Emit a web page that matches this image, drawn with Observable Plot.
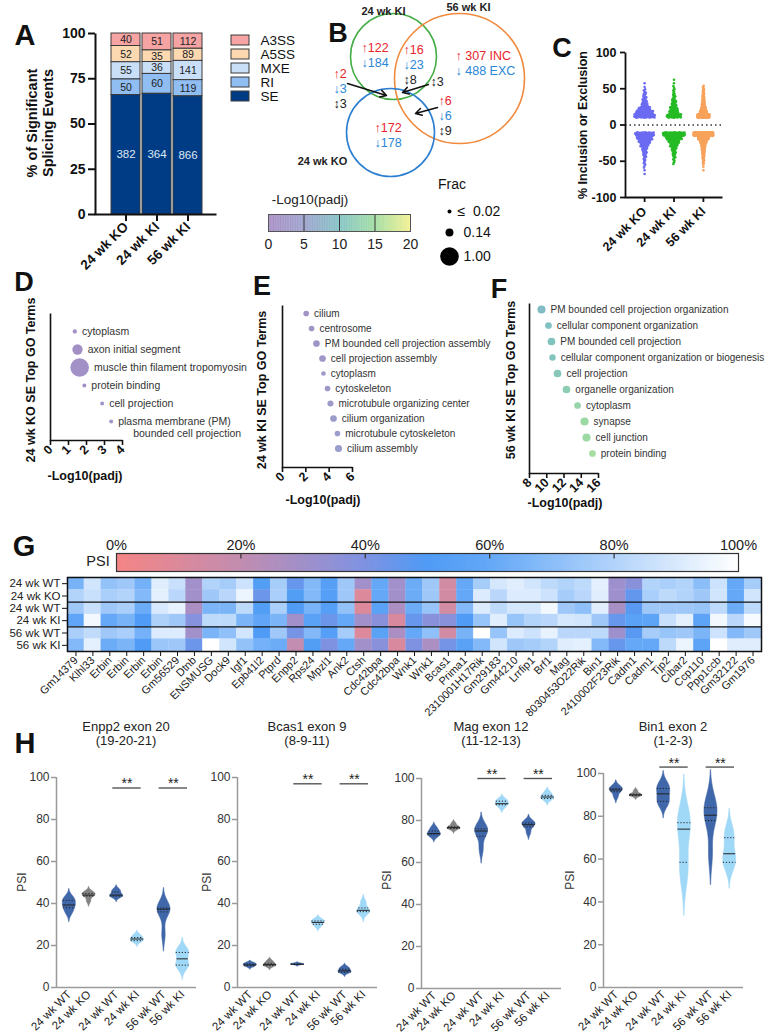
<!DOCTYPE html>
<html>
<head>
<meta charset="utf-8">
<script src="https://cdn.jsdelivr.net/npm/d3@7"></script>
<script src="https://cdn.jsdelivr.net/npm/@observablehq/plot@0.6"></script>
<style>
html,body{margin:0;padding:0;background:#fff;}
#fig{position:relative;width:767px;height:1035px;overflow:hidden;background:#fff;font-family:"Liberation Sans",Arial,Helvetica,sans-serif;color:#111;}
#fig svg{position:absolute;left:0;top:0;overflow:visible;background:none;max-width:none;}
</style>
</head>
<body>
<div id="fig"></div>
<script>
// ================= DATA =================
// Panel A: significant splicing events
const aGroups = ["24 wk KO", "24 wk KI", "56 wk KI"];
const aTypes = ["A3SS", "A5SS", "MXE", "RI", "SE"];
const aA3SS = [40, 51, 112];
const aA5SS = [52, 35, 89];
const aMXE = [55, 36, 141];
const aRI = [50, 60, 119];
const aSE = [382, 364, 866];

// Panel B: Venn counts (inclusion up, exclusion down, both)
const vSets = ["24 wk KI", "56 wk KI", "24 wk KO"];
const vRegions = ["24 wk KI only", "56 wk KI only", "24 wk KO only", "24 wk KI & 56 wk KI", "24 wk KI & 24 wk KO", "24 wk KO & 56 wk KI", "all"];
const vUp = [122, 307, 172, 16, 2, 6, null];
const vDown = [184, 488, 178, 23, 3, 6, null];
const vBoth = [null, null, null, 8, 3, 9, 3];
const fracLegend = [0.02, 0.14, 1.00];
const fracLegendLabels = ["≤  0.02", "0.14", "1.00"];

// Panel C: % inclusion / exclusion, counts per 5% bin (|value| from 10 to 70)
const cGroups = ["24 wk KO", "24 wk KI", "56 wk KI"];
const cBinStart = [10, 15, 20, 25, 30, 35, 40, 45, 50, 55, 60, 65];
const cIncKO = [55, 45, 30, 15, 10, 7, 5, 3, 1, 1, 0, 0];
const cExcKO = [50, 40, 30, 20, 12, 9, 6, 4, 3, 2, 1, 1];
const cIncKI = [40, 25, 20, 12, 10, 5, 4, 3, 2, 1, 1, 0];
const cExcKI = [70, 45, 30, 20, 12, 8, 5, 3, 2, 0, 0, 0];
const cInc56 = [130, 70, 40, 25, 15, 10, 8, 5, 3, 0, 0, 0];
const cExc56 = [220, 110, 60, 35, 25, 15, 10, 6, 4, 1, 1, 0];

// Panels D, E, F: GO terms
const dTerms = ["cytoplasm", "axon initial segment", "muscle thin filament tropomyosin", "protein binding", "cell projection", "plasma membrane (PM)"];
const dTerms2 = ["", "", "", "", "", "bounded cell projection"];
const dPadj = [1.35, 1.5, 1.62, 1.88, 2.87, 3.37];
const dFrac = [0.025, 0.26, 1.0, 0.02, 0.02, 0.02];

const eTerms = ["cilium", "centrosome", "PM bounded cell projection assembly", "cell projection assembly", "cytoplasm", "cytoskeleton", "microtubule organizing center", "cilium organization", "microtubule cytoskeleton", "cilium assembly"];
const ePadj = [2.03, 2.49, 2.91, 3.43, 3.51, 3.86, 4.11, 4.37, 4.71, 4.8];
const eFrac = [0.057, 0.057, 0.09, 0.09, 0.032, 0.057, 0.07, 0.09, 0.057, 0.106];

const fTerms = ["PM bounded cell projection organization", "cellular component organization", "PM bounded cell projection", "cellular component organization or biogenesis", "cell projection", "organelle organization", "cytoplasm", "synapse", "cell junction", "protein binding"];
const fPadj = [9.39, 10.2, 10.55, 10.67, 11.25, 12.29, 13.57, 14.38, 14.61, 15.3];
const fFrac = [0.149, 0.09, 0.13, 0.08, 0.13, 0.13, 0.09, 0.15, 0.15, 0.09];

// Panel G: PSI heatmap
const gGenes = ["Gm14379", "Klhl33", "Erbin", "Erbin", "Erbin", "Erbin", "Gm56529", "Dtnb", "ENSMUSG", "Dock9", "Igf1", "Epb41l2", "Ptprd", "Enpp2", "Rps24", "Mpzl1", "Ank2", "Ctsh", "Cdc42bpa", "Cdc42bpa", "Wnk1", "Wnk1", "Bcas1", "Prima1", "2310001H17Rik", "Gm29183", "Gm44210", "Lrrfip1", "Brf1", "Mag", "8030453O22Rik", "Bin1", "2410002F23Rik", "Cadm1", "Cadm1", "Tjp2", "Cibar2", "Ccp110", "Ppp1ccb", "Gm32122", "Gm1976"];
const gRowLabels = ["24 wk WT", "24 wk KO", "24 wk WT", "24 wk KI", "56 wk WT", "56 wk KI"];
const g24WTa = [65,88,72,75,64,92,86,30,80,77,87,52,77,45,68,53,75,30,60,30,62,75,14,60,77,89,92,88,83,80,83,93,31,37,80,78,80,70,87,60,77];
const g24KO  = [80,86,78,80,68,93,82,30,75,82,95,44,78,52,68,53,75,10,60,30,62,75,14,60,91,82,91,91,87,77,82,92,31,46,78,83,80,75,88,60,88];
const g24WTb = [75,86,75,78,62,90,94,27,66,66,83,52,78,50,65,53,72,10,55,27,62,73,14,68,91,83,89,89,97,75,71,92,28,48,75,75,75,73,83,62,83];
const g24KI  = [58,97,60,65,50,79,75,38,83,83,66,58,66,30,55,44,60,30,37,11,45,37,37,50,73,92,73,80,82,89,88,75,45,55,57,86,93,57,97,82,98];
const g56WT  = [78,84,75,78,64,91,91,30,66,71,88,50,75,42,68,53,77,10,55,27,60,71,14,65,100,73,91,87,94,82,82,83,31,48,77,73,75,66,87,68,75];
const g56KI  = [68,93,62,66,50,74,75,44,100,88,72,64,62,20,52,40,60,30,37,11,40,27,42,55,68,88,75,77,80,92,93,68,45,60,60,83,95,57,100,92,92];
const gPsiTicks = [0, 20, 40, 60, 80, 100];

// Panel H: PSI per replicate, groups in order
const hGroups = ["24 wk WT", "24 wk KO", "24 wk WT", "24 wk KI", "56 wk WT", "56 wk KI"];
const hEnpp2 = [[35.5,38,39.3,41.5,42.5],[41,43.5,44,44.8,45.3],[43,43.5,44,45.5,46.5],[21.5,22.3,23.1,23.8,25],[25,36,37.3,37.8,38.2],[10.2,10.8,16.5,17.3]];
const hBcas1 = [[9.8,10.5,11,11.6],[10,10.6,11.2,12.5],[10.8,11,11.1,11.2],[29,30.5,31.5,32.2],[7,7.4,8.5,9.5],[35,36.5,37,40.5]];
const hMag = [[72.2,73.2,73.8,75,76.5],[75.5,76.2,76.6,77,78.5],[66,72.5,75,76,77],[86,87.5,88,89.2,90],[74,77,78,78.8,79.5],[89.5,90.5,91.2,92,93.5]];
const hBin1 = [[89,91.5,92.3,93,94],[89.2,89.7,90,90.3,91.8],[85.5,87,90.5,93,95],[52,58.5,74,77,80],[62,78,80.5,84,87],[57.5,58.5,62.5,70,73]];
const hSigPairs = [[2, 3], [4, 5]];
const hSigText = "**";

// ================= STYLE / LAYOUT =================
const FONT = '"Liberation Sans", Arial, Helvetica, sans-serif';
const W = 767, H = 1035;
const fig = document.getElementById("fig");
const aColors = ["#f5a3a3", "#fdd9b2", "#c9dff8", "#90bdf2", "#003c85"];
const cColors = ["#6b6bf2", "#25bb25", "#f7a35c"];
const PADJ_COLOR = {type: "linear", domain: [0, 5, 10, 15, 20], range: ["#a58ac3", "#9a9fcb", "#7fc0c3", "#9fdca0", "#f2ef8c"]};
const PSI_COLOR = {type: "linear", domain: [0, 20, 40, 50, 60, 80, 100], range: ["#f58585", "#c28db0", "#7f92e2", "#4f9bf5", "#64a8f7", "#b2d3fa", "#ffffff"]};
const R_SCALE = {type: "sqrt", domain: [0.02, 1], range: [2, 9.3], clamp: true};
const rpx = f => 2 + (Math.sqrt(Math.max(f, 0.02)) - Math.sqrt(0.02)) / (1 - Math.sqrt(0.02)) * 7.3;
const ID = {x: {domain: [0, W], range: [0, W], axis: null}, y: {domain: [0, H], range: [0, H], axis: null}};

function draw(opts) {
  const svg = Plot.plot(Object.assign({width: W, height: H, marginTop: 0, marginRight: 0, marginBottom: 0, marginLeft: 0}, opts,
    {style: {fontFamily: FONT, background: "none", overflow: "visible", maxWidth: "none", color: "#111"}}));
  fig.appendChild(svg);
  return svg;
}
function label(text, x, y, css = "", rot = 0) {
  const d = document.createElement("div");
  d.textContent = text;
  d.style.cssText = `position:absolute;left:${x}px;top:${y}px;transform:translate(-50%,-50%) rotate(${rot}deg);white-space:pre;text-align:center;line-height:1.08;font-family:${FONT};color:#111;${css}`;
  fig.appendChild(d);
}
const lShape = (w, h) => `0 ${w + h} ${w + h}`;

// ================= PANEL A =================
const aRows = [aA3SS, aA5SS, aMXE, aRI, aSE].flatMap((arr, t) => arr.map((c, g) => ({group: aGroups[g], type: aTypes[t], count: c})));
const aOrder = ["SE", "RI", "MXE", "A5SS", "A3SS"];
draw({
  marginLeft: 95, marginTop: 33, marginRight: W - 216, marginBottom: H - 214,
  x: {type: "band", domain: aGroups, range: [108, 205], padding: 0.05},
  y: {domain: [0, 1]},
  color: {domain: aTypes, range: aColors},
  marks: [
    Plot.barY(aRows, Plot.stackY({offset: "normalize", order: aOrder, x: "group", y: "count", z: "type", fill: "type", stroke: "#3a3a3a", strokeWidth: 1})),
    Plot.text(aRows, Plot.stackY({offset: "normalize", order: aOrder, x: "group", y: "count", z: "type", text: d => d.type === "SE" ? d.count : "", fill: "#dfe7f3", fontSize: 11.5})),
    Plot.text(aRows, Plot.stackY({offset: "normalize", order: aOrder, x: "group", y: "count", z: "type", text: d => d.type !== "SE" ? d.count : "", fill: "#222", fontSize: 10.5})),
    Plot.frame({stroke: "#111", strokeWidth: 2, strokeDasharray: lShape(121, 181)}),
    Plot.axisY({ticks: [0, 0.25, 0.5, 0.75, 1], tickFormat: d => Math.round(d * 100), tickSize: 7, tickPadding: 3, fontSize: 14, fontWeight: "bold", strokeWidth: 2, label: null}),
    Plot.axisX({tickRotate: -45, tickSize: 7, tickPadding: 3, fontSize: 13.5, fontWeight: "bold", strokeWidth: 2, label: null})
  ]
});
// legend A
draw({
  marginTop: 29, marginBottom: H - 106.5, marginLeft: 231, marginRight: W - 249,
  x: {domain: [0, 1], axis: null}, y: {type: "band", domain: aTypes, padding: 0.3, axis: null},
  color: {domain: aTypes, range: aColors},
  marks: [
    Plot.barX(aTypes, {y: d => d, x1: 0, x2: 1, fill: d => d, stroke: "#3a3a3a"}),
    Plot.text(aTypes, {y: d => d, x: 1, dx: 11, text: d => d, textAnchor: "start", fontSize: 13.5, fill: "#111"})
  ]
});
label("A", 25, 36, "font-weight:bold;font-size:29px");
label("% of Significant\nSplicing Events", 41, 123, "font-weight:bold;font-size:14.5px", -90);

// ================= PANEL B =================
const vSetColors = ["#45ad45", "#f08a3e", "#2d7fd1"];
const vCircleLayout = [{cx: 393, cy: 56, r: 43, lx: 383, ly: 11}, {cx: 459, cy: 78, r: 65, lx: 468, ly: 7}, {cx: 390, cy: 132, r: 44, lx: 322, ly: 161}];
const vRegionLayout = [[361, 47], [455, 55], [374, 127], [403, 49], [333, 73], [438, 100], [430, 81]];
const vArrows = [{x1: 347, y1: 83, x2: 386, y2: 95}, {x1: 428, y1: 84, x2: 402, y2: 92}, {x1: 437, y1: 107, x2: 415, y2: 113}];
const vTexts = [];
vRegionLayout.forEach(([x, y], i) => {
  let yy = y;
  if (vUp[i] != null) { vTexts.push({x, y: yy, t: i === 1 ? `↑ ${vUp[i]} INC` : `↑${vUp[i]}`, k: "up"}); yy += 15; }
  if (vDown[i] != null) { vTexts.push({x, y: yy, t: i === 1 ? `↓ ${vDown[i]} EXC` : `↓${vDown[i]}`, k: "down"}); yy += 15.5; }
  if (vBoth[i] != null) vTexts.push({x, y: yy, t: `↕${vBoth[i]}`, k: "both"});
});
draw({
  ...ID,
  marks: [
    ...vCircleLayout.map((c, i) => Plot.dot([c], {x: "cx", y: "cy", r: c.r, stroke: vSetColors[i], strokeWidth: 1.6, fill: "none"})),
    Plot.text(vCircleLayout, {x: "lx", y: "ly", text: (d, i) => vSets[i], fontWeight: "bold", fontSize: 11, fill: "#222"}),
    Plot.text(vTexts.filter(d => d.k === "up"), {x: "x", y: "y", text: "t", textAnchor: "start", fill: "#e8242c", fontSize: 12.5}),
    Plot.text(vTexts.filter(d => d.k === "down"), {x: "x", y: "y", text: "t", textAnchor: "start", fill: "#2a86d6", fontSize: 12.5}),
    Plot.text(vTexts.filter(d => d.k === "both"), {x: "x", y: "y", text: "t", textAnchor: "start", fill: "#222", fontSize: 12.5}),
    Plot.arrow(vArrows, {x1: "x1", y1: "y1", x2: "x2", y2: "y2", stroke: "#111", strokeWidth: 1.5, headLength: 7})
  ]
});
label("B", 338, 34, "font-weight:bold;font-size:27px");
// -Log10(padj) colour bar
draw({
  marginLeft: 268, marginRight: W - 410, marginTop: 214, marginBottom: H - 231,
  x: {domain: [0, 20]}, y: {domain: [0, 1], axis: null},
  color: PADJ_COLOR,
  marks: [
    Plot.rect(d3.range(0, 20, 0.1), {x1: d => d, x2: d => Math.min(d + 0.13, 20), y1: 0, y2: 1, fill: d => d + 0.05}),
    Plot.ruleX([5, 10, 15], {y1: 0, y2: 1, stroke: "#333", strokeWidth: 1}),
    Plot.frame({stroke: "#555", strokeWidth: 1}),
    Plot.axisX({ticks: [0, 5, 10, 15, 20], tickFormat: d => String(d), tickSize: 0, tickPadding: 8, fontSize: 14, fill: "#222", label: null})
  ]
});
label("-Log10(padj)", 310, 200, "font-size:13.5px;color:#222");
// Frac legend
draw({
  ...ID,
  r: R_SCALE,
  marks: [
    Plot.dot(fracLegend, {x: () => 449, y: (d, i) => [211, 232, 256][i], r: d => d, fill: "#000"}),
    Plot.text(fracLegend.slice(0, 1), {x: () => 457, y: () => 211, text: () => fracLegendLabels[0], textAnchor: "start", fontSize: 14, fill: "#111"}),
    Plot.text(fracLegend.slice(1), {x: () => 463, y: (d, i) => [232, 256][i], text: (d, i) => fracLegendLabels[i + 1], textAnchor: "start", fontSize: 14, fill: "#111"})
  ]
});
label("Frac", 452, 185, "font-size:14px;color:#111");

// ================= PANEL C =================
const cSpread = [0.36, 0.33, 0.085];
const cPPU = 97 / 3.3;
const cPts = [];
[[cIncKO, cExcKO], [cIncKI, cExcKI], [cInc56, cExc56]].forEach(([inc, exc], gi) => {
  [[inc, 1], [exc, -1]].forEach(([counts, sign]) => {
    counts.forEach((n, b) => {
      const lo = cBinStart[b];
      const wpx = Math.min(n * cSpread[gi] + 1, 22);
      for (let i = 0; i < n; i++) {
        const u = ((i * 0.6180339887 + 0.5) % 1) - 0.5;
        cPts.push({g: gi, x: gi + u * wpx / cPPU, y: sign * (lo + 5 * (i + 0.5) / n)});
      }
    });
  });
});
draw({
  marginLeft: 625, marginRight: W - 722, marginTop: 52, marginBottom: H - 197,
  x: {domain: [-0.65, 2.65]}, y: {domain: [-100, 100]},
  color: {type: "ordinal", domain: [0, 1, 2], range: cColors},
  marks: [
    Plot.ruleY([0], {stroke: "#333", strokeDasharray: "1.5 3", strokeWidth: 1.3}),
    Plot.dot(cPts, {x: "x", y: "y", r: 1.3, fill: "g"}),
    Plot.frame({stroke: "#111", strokeWidth: 1.8, strokeDasharray: lShape(97, 145)}),
    Plot.axisY({ticks: [-100, -50, 0, 50, 100], tickFormat: d => String(d), tickSize: 5, strokeWidth: 1.8, fontSize: 12.5, fontWeight: "bold", label: null}),
    Plot.axisX({ticks: [0, 1, 2], tickFormat: i => cGroups[i], tickRotate: -45, tickSize: 5, strokeWidth: 1.8, fontSize: 12.5, fontWeight: "bold", label: null})
  ]
});
label("C", 562, 49, "font-weight:bold;font-size:27px");
label("% Inclusion or Exclusion", 584, 125, "font-weight:bold;font-size:12.5px", -90);

// ================= PANELS D, E, F =================
function goPanel(terms, terms2, padj, frac, cfg) {
  const ppu = (cfg.right - cfg.left) / (cfg.xdom[1] - cfg.xdom[0]);
  const rows = terms.map((t, i) => ({t, s: terms2 ? terms2[i] : "", v: padj[i], f: frac[i]}));
  draw({
    marginLeft: cfg.left, marginRight: W - cfg.right, marginTop: cfg.top, marginBottom: H - cfg.bottom,
    x: {domain: cfg.xdom}, y: {type: "point", domain: terms, range: cfg.yr, padding: 0, axis: null},
    r: R_SCALE, color: PADJ_COLOR,
    marks: [
      Plot.frame({stroke: "#111", strokeWidth: 1.6, strokeDasharray: lShape(cfg.right - cfg.left, cfg.bottom - cfg.top)}),
      Plot.dot(rows, {x: "v", y: "t", r: "f", fill: "v"}),
      Plot.text(rows, {x: d => d.v + (rpx(d.f) + 5) / ppu, y: "t", text: "t", textAnchor: "start", fontSize: cfg.fs, fill: "#333"}),
      Plot.text(rows.filter(d => d.s), {x: d => d.v + (rpx(d.f) + 5) / ppu, y: "t", dx: 15, dy: 12, text: "s", textAnchor: "start", fontSize: cfg.fs, fill: "#333"}),
      Plot.axisX({ticks: cfg.ticks, tickFormat: d => String(d), tickRotate: -45, tickSize: 5, tickPadding: 2, strokeWidth: 1.6, fontSize: 12.5, fontWeight: "bold", label: null})
    ]
  });
}
goPanel(dTerms, dTerms2, dPadj, dFrac, {left: 50, right: 122, top: 313, bottom: 440, xdom: [0, 4], yr: [331, 421], ticks: [0, 1, 2, 3, 4], fs: 10.5});
goPanel(eTerms, null, ePadj, eFrac, {left: 282, right: 352, top: 305, bottom: 467, xdom: [0, 6], yr: [309, 451], ticks: [0, 2, 4, 6], fs: 10});
goPanel(fTerms, null, fPadj, fFrac, {left: 529, right: 598, top: 303, bottom: 473, xdom: [8, 16], yr: [308, 453], ticks: [8, 10, 12, 14, 16], fs: 10});
label("D", 24, 283, "font-weight:bold;font-size:27px");
label("E", 262, 287, "font-weight:bold;font-size:27px");
label("F", 499, 290, "font-weight:bold;font-size:27px");
label("24 wk KO SE Top GO Terms", 32, 380, "font-weight:bold;font-size:12.5px", -90);
label("24 wk KI SE Top GO Terms", 263, 390, "font-weight:bold;font-size:12.5px", -90);
label("56 wk KI SE Top GO Terms", 512, 380, "font-weight:bold;font-size:12.5px", -90);
label("-Log10(padj)", 85, 477, "font-weight:bold;font-size:12.5px");
label("-Log10(padj)", 323, 501, "font-weight:bold;font-size:12.5px");
label("-Log10(padj)", 565, 504, "font-weight:bold;font-size:12.5px");

// ================= PANEL G =================
const gCells = [g24WTa, g24KO, g24WTb, g24KI, g56WT, g56KI].flatMap((row, r) => row.map((v, c) => ({r, c, v})));
draw({
  marginLeft: 116, marginRight: W - 738, marginTop: 553, marginBottom: H - 571,
  x: {domain: [0, 100]}, y: {domain: [0, 1], axis: null},
  color: PSI_COLOR,
  marks: [
    Plot.rect(d3.range(0, 100, 0.5), {x1: d => d, x2: d => Math.min(d + 0.65, 100), y1: 0, y2: 1, fill: d => d + 0.25}),
    Plot.ruleX([20, 40, 60, 80], {y1: 1, y2: 0.7, stroke: "#333", strokeWidth: 1.2}),
    Plot.frame({stroke: "#333", strokeWidth: 1.2}),
    Plot.axisX({anchor: "top", ticks: gPsiTicks, tickFormat: d => d + "%", tickSize: 0, tickPadding: 4, fontSize: 14.5, fill: "#222", label: null})
  ]
});
draw({
  marginLeft: 67, marginRight: W - 761, marginTop: 577, marginBottom: H - 651,
  x: {domain: [0, gGenes.length]}, y: {domain: [0, 6], range: [577, 651]},
  color: PSI_COLOR,
  marks: [
    Plot.rect(gCells, {x1: "c", x2: d => d.c + 1, y1: "r", y2: d => d.r + 1, fill: "v", stroke: "v", strokeWidth: 0.3}),
    Plot.ruleY([2, 4], {stroke: "#111", strokeWidth: 1.3}),
    Plot.frame({stroke: "#111", strokeWidth: 1.5}),
    Plot.axisX({ticks: d3.range(gGenes.length).map(i => i + 0.5), tickFormat: t => gGenes[Math.floor(t)], tickRotate: -45, tickSize: 5, tickPadding: 2, fontSize: 11, fill: "#222", label: null}),
    Plot.axisY({ticks: d3.range(6).map(i => i + 0.5), tickFormat: t => gRowLabels[Math.floor(t)], tickSize: 5, tickPadding: 2, fontSize: 11.5, fill: "#222", label: null})
  ]
});
label("G", 24, 547, "font-weight:bold;font-size:29px");
label("PSI", 98, 562, "font-size:14.5px;color:#222");

// ================= PANEL H =================
const H_POS = [0, 1, 2.4, 3.45, 4.8, 5.75];
const hColors = ["#3f67a9", "#838383", "#3f67a9", "#a0d8f7", "#3f67a9", "#a0d8f7"];
function violin(vals, p, hw) {
  const n = vals.length, sd = d3.deviation(vals);
  const h = Math.max(0.9 * sd * Math.pow(n, -0.2), 0.35);
  const lo = d3.min(vals) - 3 * h, hi = d3.max(vals) + 3 * h;
  const N = 200;
  const dens = y => d3.sum(vals, v => Math.exp(-0.5 * ((y - v) / h) ** 2));
  const ys = d3.range(N + 1).map(i => lo + (hi - lo) * i / N);
  const ds = ys.map(dens), dmax = d3.max(ds);
  let a = 0, b = N;
  while (ds[a] / dmax < 0.025) a++;
  while (ds[b] / dmax < 0.025) b--;
  const pts = [];
  for (let i = a; i <= b; i++) pts.push({y: ys[i], x1: p - hw * ds[i] / dmax, x2: p + hw * ds[i] / dmax});
  const sorted = vals.slice().sort(d3.ascending);
  const q = [0.25, 0.5, 0.75].map(t => d3.quantile(sorted, t));
  const ql = q.map((y, k) => ({y, k, x1: p - hw * dens(y) / dmax, x2: p + hw * dens(y) / dmax}));
  return {pts, ql};
}
function hPanel(data, cfg) {
  const L = cfg.left, R = cfg.left + 140;
  const xdom = [-0.65, 6.45];
  const hw = 6.5 / (140 / (xdom[1] - xdom[0]));
  const marks = [
    Plot.ruleX([xdom[0]], {stroke: "#9a9a9a", strokeWidth: 1.5}),
    Plot.ruleY([0], {stroke: "#9a9a9a", strokeWidth: 1.5})
  ];
  data.forEach((vals, i) => {
    const {pts, ql} = violin(vals, H_POS[i], hw);
    marks.push(Plot.areaX(pts, {y: "y", x1: "x1", x2: "x2", fill: hColors[i], stroke: hColors[i], strokeWidth: 0.6}));
    marks.push(Plot.ruleY(ql.filter(d => d.k === 1), {y: "y", x1: "x1", x2: "x2", stroke: "#222", strokeWidth: 1}));
    marks.push(Plot.ruleY(ql.filter(d => d.k !== 1), {y: "y", x1: "x1", x2: "x2", stroke: "#222", strokeWidth: 1, strokeDasharray: "1.2 1.8"}));
  });
  const sig = hSigPairs.map(([s, e]) => ({mid: (H_POS[s] + H_POS[e]) / 2}));
  marks.push(Plot.ruleY(sig, {y: () => cfg.sig, x1: d => d.mid - 0.72, x2: d => d.mid + 0.72, stroke: "#555", strokeWidth: 1.4}));
  marks.push(Plot.text(sig, {x: "mid", y: () => cfg.sig, dy: -4, text: () => hSigText, fontSize: 14, fill: "#222"}));
  marks.push(Plot.axisY({ticks: [0, 20, 40, 60, 80, 100], tickFormat: d => String(d), tickSize: 5, tickPadding: 2, stroke: "#9a9a9a", strokeWidth: 1.5, fill: "#333", fontSize: 12, label: null}));
  marks.push(Plot.axisX({ticks: H_POS, tickFormat: d => hGroups[H_POS.indexOf(d)], tickRotate: -45, tickSize: 0, tickPadding: 5, fontSize: 11.5, fill: "#222", label: null}));
  draw({
    marginLeft: L, marginRight: W - R, marginTop: cfg.top, marginBottom: H - cfg.bottom,
    x: {domain: xdom}, y: {domain: [0, 100]},
    marks
  });
  label(cfg.title, L + 70, 734, "font-size:13px;color:#222;line-height:14px");
  label("PSI", cfg.psiX, cfg.psiY, "font-size:12px;color:#333", -90);
}
hPanel(hEnpp2, {left: 56, top: 777, bottom: 987, sig: 95, title: "Enpp2 exon 20\n(19-20-21)", psiX: 22, psiY: 882});
hPanel(hBcas1, {left: 237, top: 777, bottom: 987, sig: 97, title: "Bcas1 exon 9\n(8-9-11)", psiX: 207, psiY: 882});
hPanel(hMag, {left: 421, top: 778, bottom: 988, sig: 100, title: "Mag exon 12\n(11-12-13)", psiX: 387, psiY: 880});
hPanel(hBin1, {left: 603, top: 773, bottom: 987, sig: 103, title: "Bin1 exon 2\n(1-2-3)", psiX: 570, psiY: 880});
label("H", 25, 744, "font-weight:bold;font-size:29px");
</script>
</body>
</html>
